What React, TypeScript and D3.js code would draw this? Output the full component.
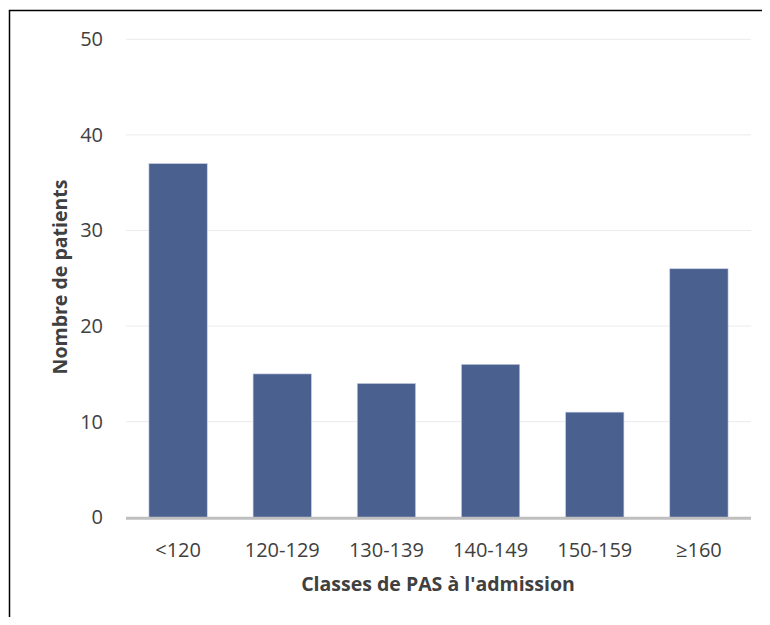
import React, { useEffect, useRef } from "react";
import * as d3 from "d3";

const categories = ["<120", "120-129", "130-139", "140-149", "150-159", "≥160"];
const patients = [37, 15, 14, 16, 11, 26];
const yTicks = [0, 10, 20, 30, 40, 50];

const xTitle = "Classes de PAS à l'admission";
const yTitle = "Nombre de patients";

const BarChart = () => {
  const ref = useRef<SVGSVGElement>(null);

  useEffect(() => {
    if (!ref.current) return;
    const svg = d3.select(ref.current);
    svg.selectAll("*").remove();

    const width = 770;
    const height = 625;
    const margin = { top: 39.3, right: 19, bottom: 107.7, left: 126 };
    const innerWidth = width - margin.left - margin.right;
    const innerHeight = height - margin.top - margin.bottom;
    const font = "'Open Sans', 'Noto Sans', sans-serif";

    // outer frame (only left and top edges show in the picture)
    svg.append("rect")
      .attr("x", 9.5).attr("y", 10.5)
      .attr("width", 800).attr("height", 700)
      .attr("fill", "white")
      .attr("stroke", "black")
      .attr("stroke-width", 1.5);

    const x = d3.scaleBand().domain(categories).range([0, innerWidth]).paddingInner(0.44).paddingOuter(0.22);
    const y = d3.scaleLinear().domain([0, 50]).range([innerHeight, 0]);

    const g = svg.append("g").attr("transform", `translate(${margin.left},${margin.top})`);

    // gridlines
    g.selectAll(".grid")
      .data(yTicks.filter((t) => t > 0))
      .enter()
      .append("line")
      .attr("x1", 0)
      .attr("x2", innerWidth)
      .attr("y1", (d) => y(d))
      .attr("y2", (d) => y(d))
      .attr("stroke", "#ebebeb")
      .attr("stroke-width", 1);

    // y tick labels
    g.selectAll(".ytick")
      .data(yTicks)
      .enter()
      .append("text")
      .attr("x", -23)
      .attr("y", (d) => y(d))
      .attr("dy", "0.35em")
      .attr("text-anchor", "end")
      .attr("font-family", font)
      .attr("font-size", 20)
      .attr("fill", "#404040")
      .text((d) => d);

    // bars
    g.selectAll(".bar")
      .data(patients)
      .enter()
      .append("rect")
      .attr("x", (_, i) => x(categories[i]) as number)
      .attr("y", (d) => y(d))
      .attr("width", x.bandwidth())
      .attr("height", (d) => innerHeight - y(d))
      .attr("fill", "#4a6190")
      .attr("stroke", "#c9cfe8")
      .attr("stroke-width", 0.6);

    // baseline
    g.append("line")
      .attr("x1", 0)
      .attr("x2", innerWidth)
      .attr("y1", innerHeight + 1)
      .attr("y2", innerHeight + 1)
      .attr("stroke", "#bfbfbf")
      .attr("stroke-width", 3);

    // x tick labels
    g.selectAll(".xtick")
      .data(categories)
      .enter()
      .append("text")
      .attr("x", (d) => (x(d) as number) + x.bandwidth() / 2)
      .attr("y", innerHeight + 32.5)
      .attr("dy", "0.35em")
      .attr("text-anchor", "middle")
      .attr("font-family", font)
      .attr("font-size", 20)
      .attr("fill", "#404040")
      .text((d) => d);

    // axis titles
    svg.append("text")
      .attr("x", 438)
      .attr("y", 584)
      .attr("dy", "0.35em")
      .attr("text-anchor", "middle")
      .attr("font-family", font)
      .attr("font-size", 19.5)
      .attr("font-weight", "bold")
      .attr("fill", "#404040")
      .text(xTitle);

    svg.append("text")
      .attr("transform", "translate(60,277) rotate(-90)")
      .attr("dy", "0.35em")
      .attr("text-anchor", "middle")
      .attr("font-family", font)
      .attr("font-size", 19.5)
      .attr("font-weight", "bold")
      .attr("fill", "#404040")
      .text(yTitle);
  }, []);

  return <svg ref={ref} width={770} height={625} style={{ display: "block" }} />;
};

function App() {
  return (
    <div style={{ margin: -8 }}>
      <BarChart />
    </div>
  );
}

export default App;
